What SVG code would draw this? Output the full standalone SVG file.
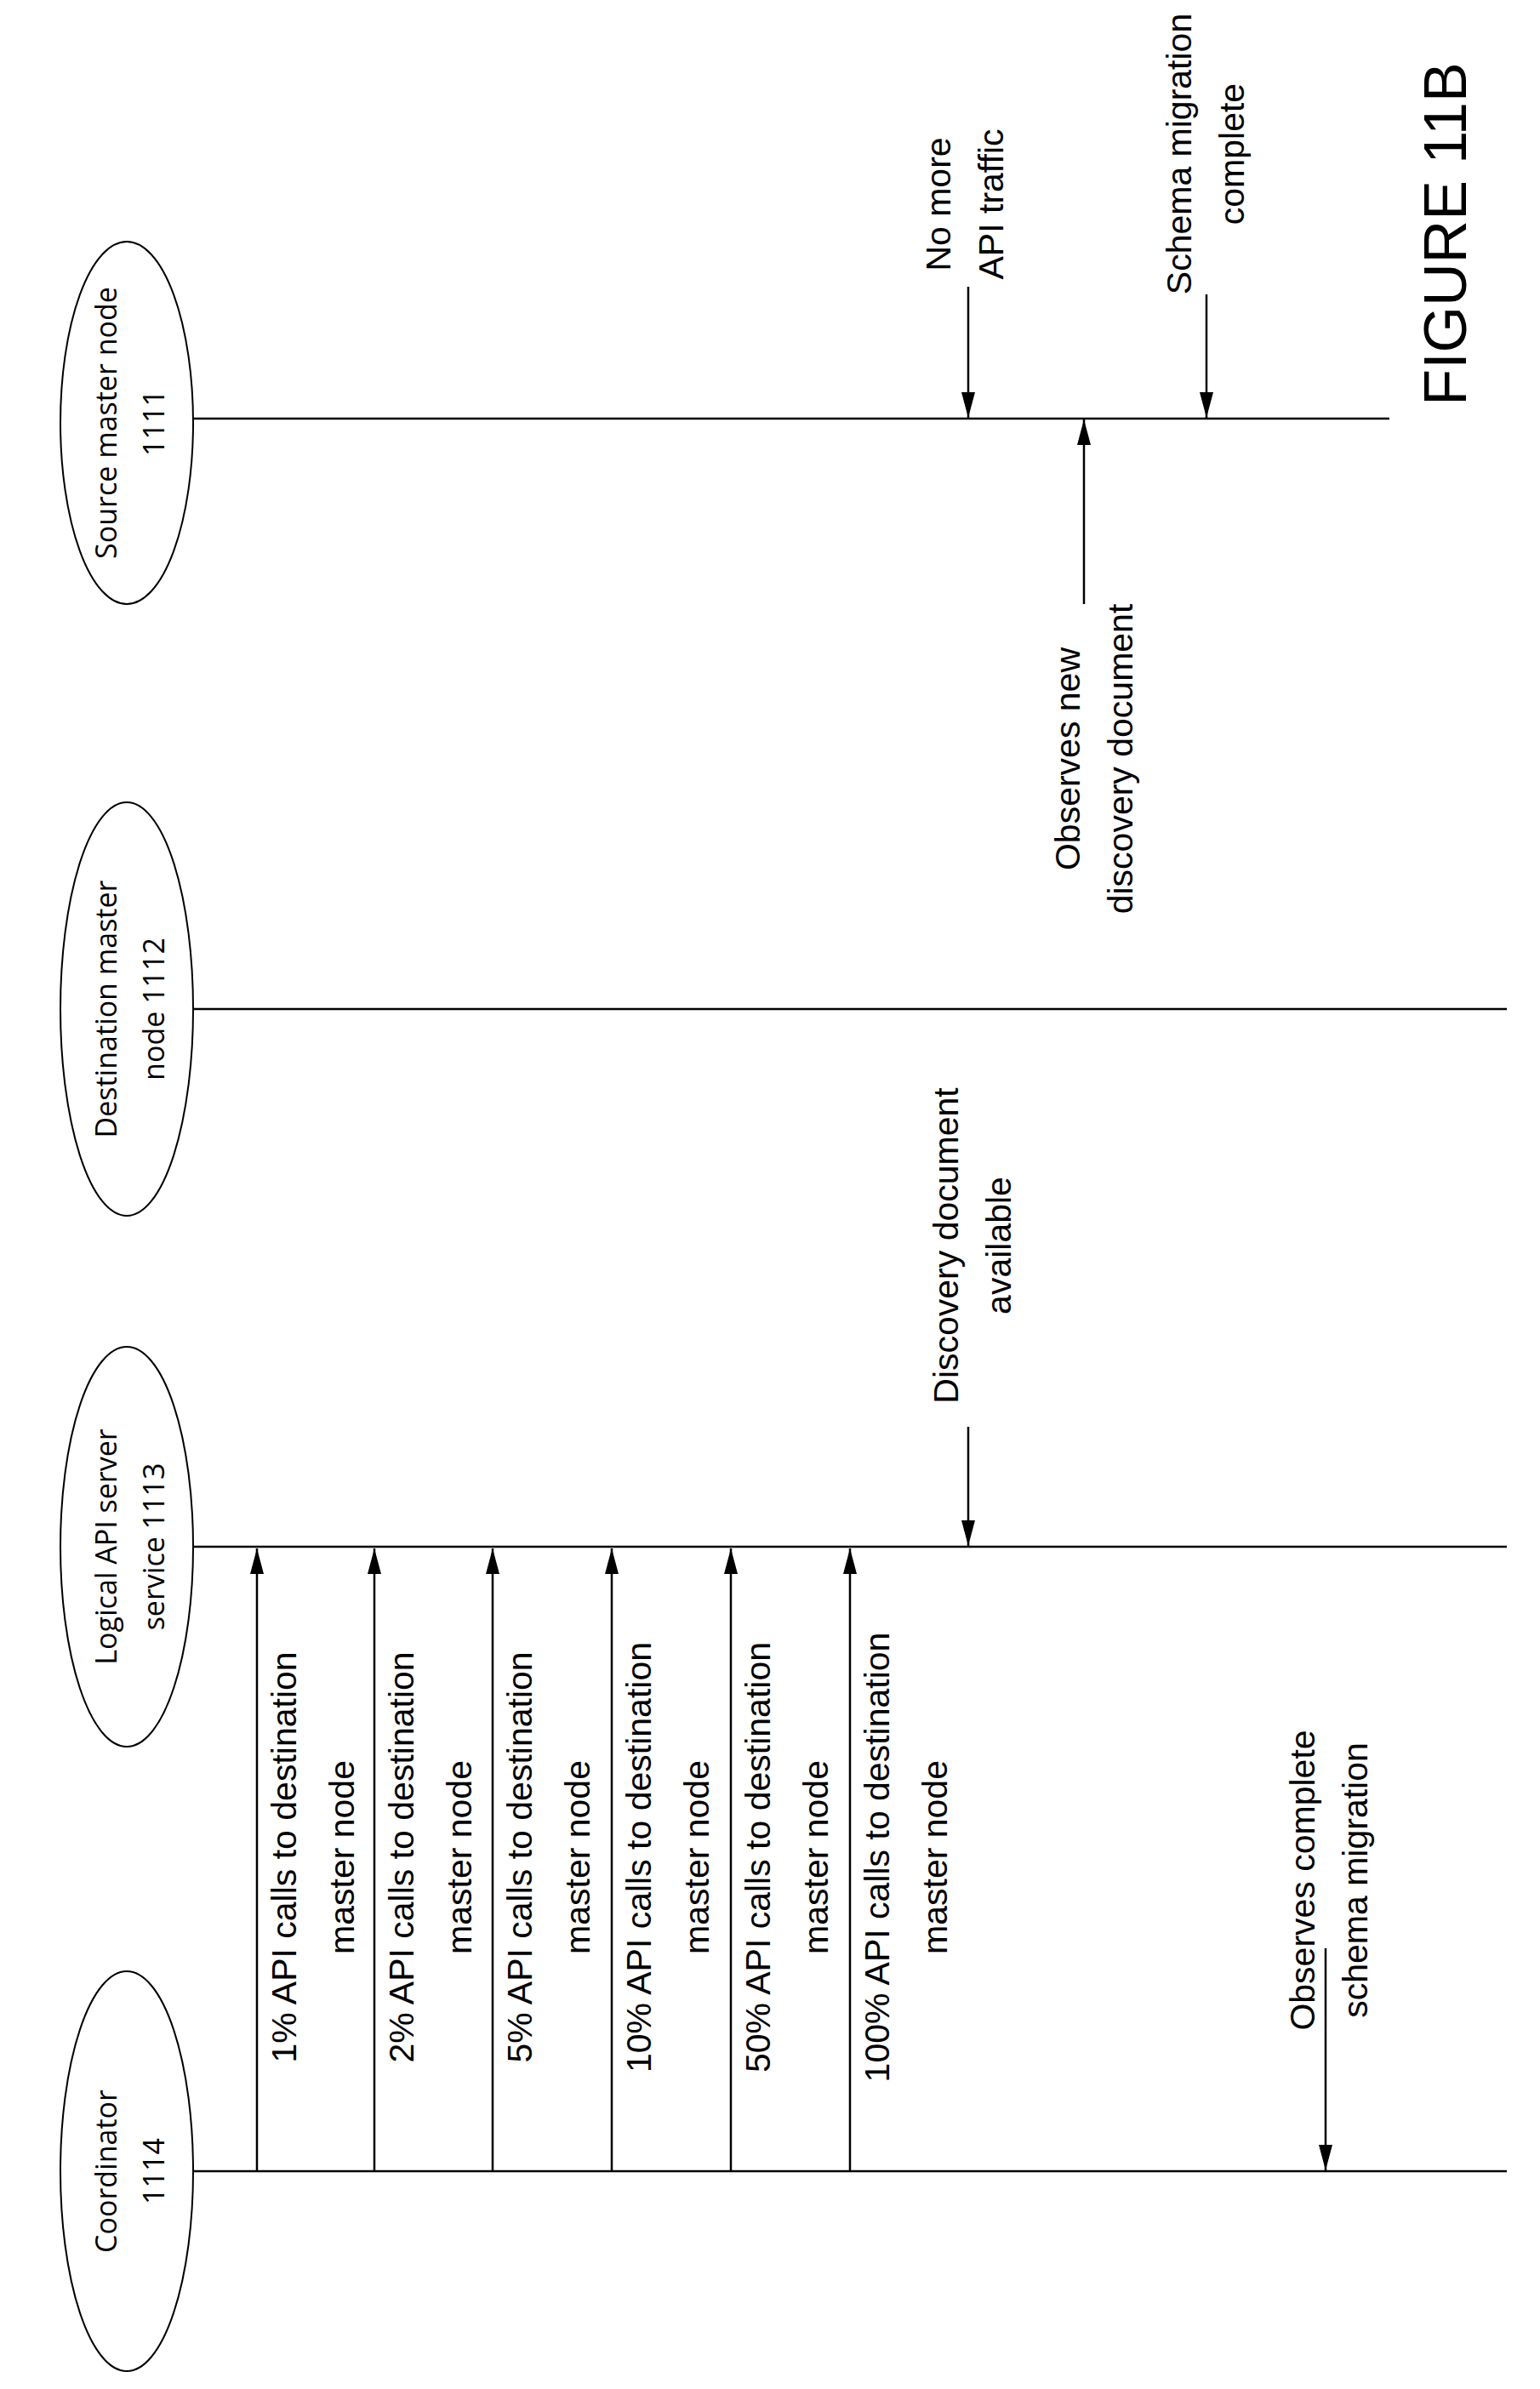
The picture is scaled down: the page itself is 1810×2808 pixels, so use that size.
<svg xmlns="http://www.w3.org/2000/svg" width="1810" height="2808" viewBox="0 0 1810 2808">
<style>
.n{font-family:"Open Sans",sans-serif;font-size:34px;text-anchor:middle}
.t{font-family:"Liberation Sans",Arial,sans-serif;font-size:41px;text-anchor:middle}
.l{stroke:#000;stroke-width:2.5;fill:none}
.m{stroke:#000;stroke-width:2.5;fill:none;marker-end:url(#a)}
.e{fill:#fff;stroke:#000;stroke-width:2}
</style>
<defs><marker id="a" markerWidth="30" markerHeight="16" refX="30" refY="8" orient="auto" markerUnits="userSpaceOnUse"><path d="M0,0L30,8L0,16z"/></marker></defs>
<rect width="1810" height="2808" fill="#fff"/>
<g id="source"><ellipse class="e" cx="149" cy="497" rx="78" ry="213"/><text class="n" transform="translate(149,497) rotate(-90)"><tspan x="0" y="-12">Source master node</tspan><tspan x="0" y="44">1111</tspan></text></g>
<g id="destination"><ellipse class="e" cx="149" cy="1186" rx="78" ry="243"/><text class="n" transform="translate(149,1186) rotate(-90)"><tspan x="0" y="-12">Destination master</tspan><tspan x="0" y="44">node 1112</tspan></text></g>
<g id="logical"><ellipse class="e" cx="149" cy="1818" rx="78" ry="235"/><text class="n" transform="translate(149,1818) rotate(-90)"><tspan x="0" y="-12">Logical API server</tspan><tspan x="0" y="44">service 1113</tspan></text></g>
<g id="coordinator"><ellipse class="e" cx="149" cy="2552" rx="78" ry="235"/><text class="n" transform="translate(149,2552) rotate(-90)"><tspan x="0" y="-12">Coordinator</tspan><tspan x="0" y="44">1114</tspan></text></g>
<g id="connectors">
<path class="l" d="M227 492H1633M227 1186H1771M227 1818H1771M227 2552H1771"/>
<path class="m" d="M302 2552V1820"/>
<path class="m" d="M440 2552V1820"/>
<path class="m" d="M579 2552V1820"/>
<path class="m" d="M719 2552V1820"/>
<path class="m" d="M859 2552V1820"/>
<path class="m" d="M999 2552V1820"/>
<path class="m" d="M1138 1677V1817"/>
<path class="m" d="M1274 710V493"/>
<path class="m" d="M1138 337V491"/>
<path class="m" d="M1418 346V491"/>
<path class="m" d="M1558 2290V2551"/>
</g>
<g id="labels">
<text class="t" transform="translate(368,2183) rotate(-90)"><tspan x="0" y="-20">1% API calls to destination</tspan><tspan x="0" y="48">master node</tspan></text>
<text class="t" transform="translate(506,2183) rotate(-90)"><tspan x="0" y="-20">2% API calls to destination</tspan><tspan x="0" y="48">master node</tspan></text>
<text class="t" transform="translate(645,2183) rotate(-90)"><tspan x="0" y="-20">5% API calls to destination</tspan><tspan x="0" y="48">master node</tspan></text>
<text class="t" transform="translate(785,2183) rotate(-90)"><tspan x="0" y="-20">10% API calls to destination</tspan><tspan x="0" y="48">master node</tspan></text>
<text class="t" transform="translate(925,2183) rotate(-90)"><tspan x="0" y="-20">50% API calls to destination</tspan><tspan x="0" y="48">master node</tspan></text>
<text class="t" transform="translate(1065,2183) rotate(-90)"><tspan x="0" y="-20">100% API calls to destination</tspan><tspan x="0" y="48">master node</tspan></text>
<text class="t" transform="translate(1142,1464) rotate(-90)"><tspan x="0" y="-16">Discovery document</tspan><tspan x="0" y="46">available</tspan></text>
<text class="t" transform="translate(1285,892) rotate(-90)"><tspan x="0" y="-16">Observes new</tspan><tspan x="0" y="46">discovery document</tspan></text>
<text class="t" transform="translate(1133,240) rotate(-90)"><tspan x="0" y="-16">No more</tspan><tspan x="0" y="46">API traffic</tspan></text>
<text class="t" transform="translate(1416,181) rotate(-90)"><tspan x="0" y="-16">Schema migration</tspan><tspan x="0" y="46">complete</tspan></text>
<text class="t" transform="translate(1561,2210) rotate(-90)"><tspan x="0" y="-16">Observes complete</tspan><tspan x="0" y="46">schema migration</tspan></text>
<text transform="translate(1723,275) rotate(-90)" style="font-family:'Liberation Sans',Arial,sans-serif;font-size:70px;text-anchor:middle">FIGURE 11B</text>
</g>
</svg>
